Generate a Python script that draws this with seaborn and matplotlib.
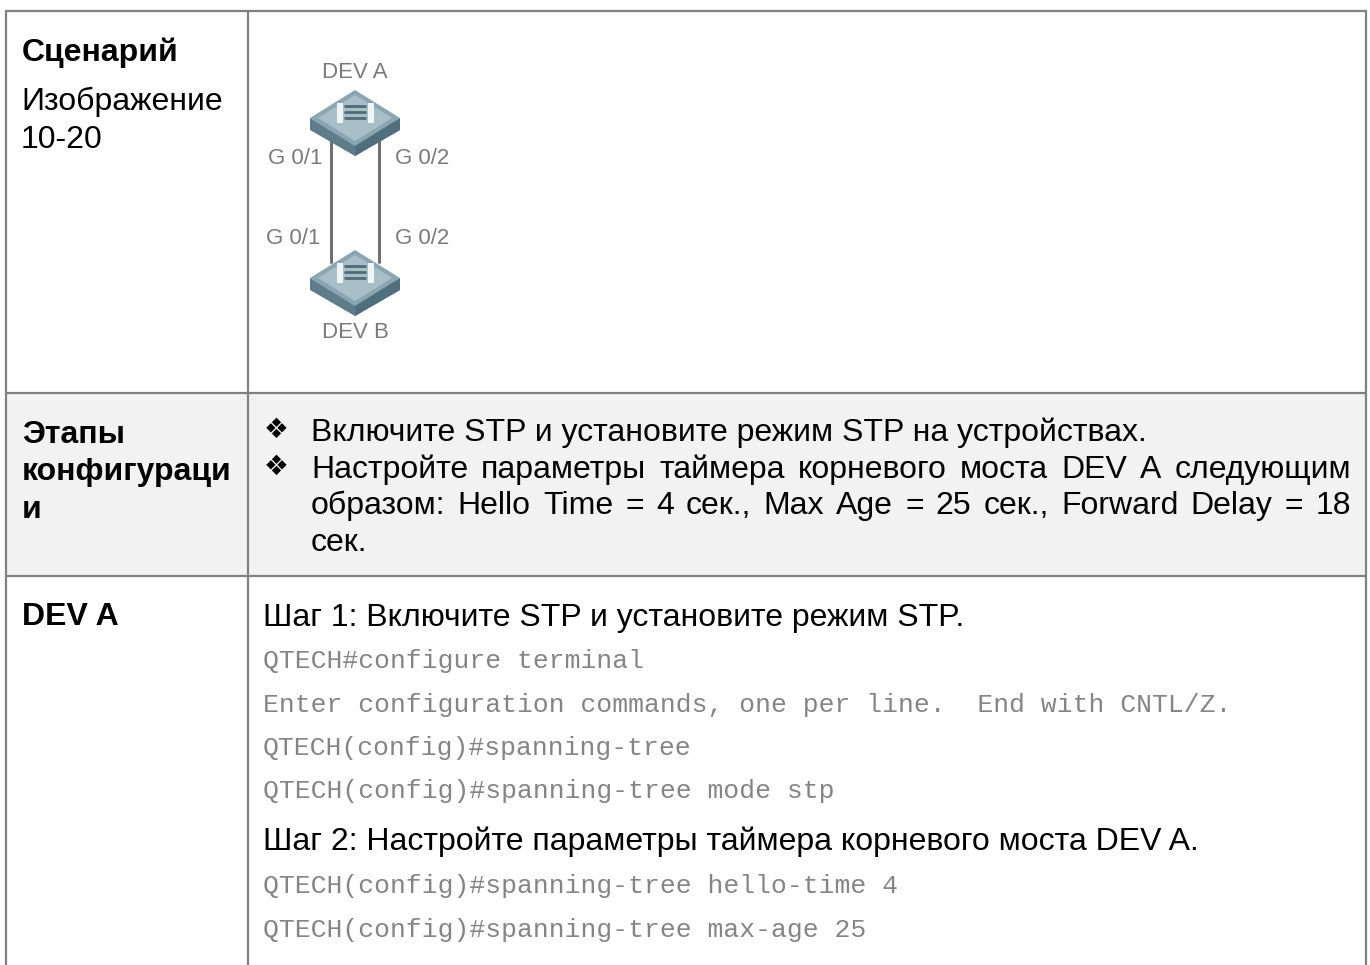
import matplotlib
matplotlib.use("Agg")
import matplotlib.pyplot as plt
import pandas as pd
import seaborn as sns
from matplotlib.patches import Polygon, Rectangle

row_titles = ["Сценарий", "Этапы", "конфигураци", "и", "DEV A"]
figure_caption = ["Изображение", "10-20"]
port_labels = ["G 0/1", "G 0/2", "G 0/1", "G 0/2"]
device_names = ["DEV A", "DEV B"]
bullet_lines = [
    "Включите STP и установите режим STP на устройствах.",
    "Настройте параметры таймера корневого моста DEV A следующим",
    "образом: Hello Time = 4 сек., Max Age = 25 сек., Forward Delay = 18",
    "сек.",
]
step_one = "Шаг 1: Включите STP и установите режим STP."
step_one_cmds = [
    "QTECH#configure terminal",
    "Enter configuration commands, one per line.  End with CNTL/Z.",
    "QTECH(config)#spanning-tree",
    "QTECH(config)#spanning-tree mode stp",
]
step_two = "Шаг 2: Настройте параметры таймера корневого моста DEV A."
step_two_cmds = [
    "QTECH(config)#spanning-tree hello-time 4",
    "QTECH(config)#spanning-tree max-age 25",
]

sns.set_theme(style="white")
plt.rcParams["font.family"] = ["Liberation Sans", "DejaVu Sans"]

LINE = "#808080"
MONO = "#858585"

fig = plt.figure(figsize=(13.7, 9.65), dpi=100)
ax = fig.add_axes([0, 0, 1, 1])
ax.set_xlim(0, 1370)
ax.set_ylim(965, 0)
ax.axis("off")

# shaded row goes right across the table
ax.add_patch(Rectangle((7, 393), 1359, 183, color="#f2f2f2", lw=0, zorder=0))

# table grid, no bottom border because the page is cut off
for y in [11, 393, 576]:
    ax.plot([6, 1367], [y, y], color=LINE, lw=1.6, solid_capstyle="butt")
for x in [6.5, 248.5, 1366.5]:
    ax.plot([x, x], [10, 965], color=LINE, lw=1.6, solid_capstyle="butt")


def draw_device(top):
    cx = 355
    side = [(310, top + 28), (355, top + 55), (400, top + 28), (400, top + 40), (355, top + 66), (310, top + 40)]
    ax.add_patch(Polygon(side, color="#5d7d8a", lw=0, zorder=3))
    ax.add_patch(Polygon([(355, top + 55), (400, top + 28), (400, top + 40), (355, top + 66)], color="#4f6f7d", lw=0, zorder=3))
    face = [(355, top), (400, top + 28), (355, top + 56), (310, top + 28)]
    ax.add_patch(Polygon(face, color="#8aa6b2", lw=0, zorder=3))
    ax.add_patch(Polygon([(355, top + 5), (392, top + 28), (355, top + 51), (318, top + 28)], color="#a9bfc8", lw=0, zorder=3))
    ax.add_patch(Rectangle((cx - 18, top + 13), 6, 20, color="#f0f4f5", lw=0, zorder=4))
    ax.add_patch(Rectangle((cx + 13, top + 13), 6, 20, color="#f0f4f5", lw=0, zorder=4))
    for dy in [16, 22, 28]:
        ax.plot([cx - 10, cx + 10], [top + dy, top + dy], color="#4f6b78", lw=2.0, zorder=4)


# links between the two switches
for x in [331, 379]:
    links = pd.DataFrame({"x": [x, x], "y": [138, 262]})
    sns.lineplot(data=links, x="x", y="y", ax=ax, color="#707070", lw=2.2, estimator=None, sort=False, zorder=2)
ax.set_xlim(0, 1370)
ax.set_ylim(965, 0)

draw_device(90)
draw_device(250)

label_kw = dict(color="#7a7a7a", fontsize=16, ha="center", va="center")
ax.text(355, 72, device_names[0], **label_kw)
ax.text(355, 332, device_names[1], **label_kw)
ax.text(295, 159, port_labels[0], **label_kw)
ax.text(422, 159, port_labels[1], **label_kw)
ax.text(293, 239, port_labels[2], **label_kw)
ax.text(422, 239, port_labels[3], **label_kw)

SIZE = 23
title_kw = dict(fontsize=SIZE, fontweight="bold", color="black", va="baseline")
body_kw = dict(fontsize=SIZE, color="black", va="baseline")
mono_kw = dict(fontsize=19, color=MONO, va="baseline", family=["Liberation Mono", "DejaVu Sans Mono"])

renderer = fig.canvas.get_renderer()


def justified(line, left, right, y):
    # word's gaps stretched so the line fills the cell, as in the source document
    words = [ax.text(left, y, w, **body_kw) for w in line.split()]
    widths = [w.get_window_extent(renderer).width for w in words]
    gap = (right - left - sum(widths)) / (len(words) - 1)
    x = left
    for word, width in zip(words, widths):
        word.set_x(x)
        x += width + gap


ax.text(22, 61, row_titles[0], **title_kw)
for y, s in zip([110, 148], figure_caption):
    ax.text(21, y, s, **body_kw)
for y, s in zip([443, 480, 518], row_titles[1:4]):
    ax.text(22, y, s, **title_kw)
ax.text(22, 625, row_titles[4], **title_kw)

ax.text(311, 441, bullet_lines[0], **body_kw)
justified(bullet_lines[1], 311, 1351, 478)
justified(bullet_lines[2], 311, 1351, 514)
ax.text(311, 551, bullet_lines[3], **body_kw)
for y in [430, 467]:
    ax.text(276, y, "❖", fontsize=20, color="black", ha="center", va="center", family=["DejaVu Sans"])

ax.text(263, 626, step_one, **body_kw)
for y, s in zip([668, 712, 755, 798], step_one_cmds):
    ax.text(263, y, s, **mono_kw)
ax.text(263, 850, step_two, **body_kw)
for y, s in zip([893, 937], step_two_cmds):
    ax.text(263, y, s, **mono_kw)

fig.savefig("out.png", dpi=100, facecolor="white")
